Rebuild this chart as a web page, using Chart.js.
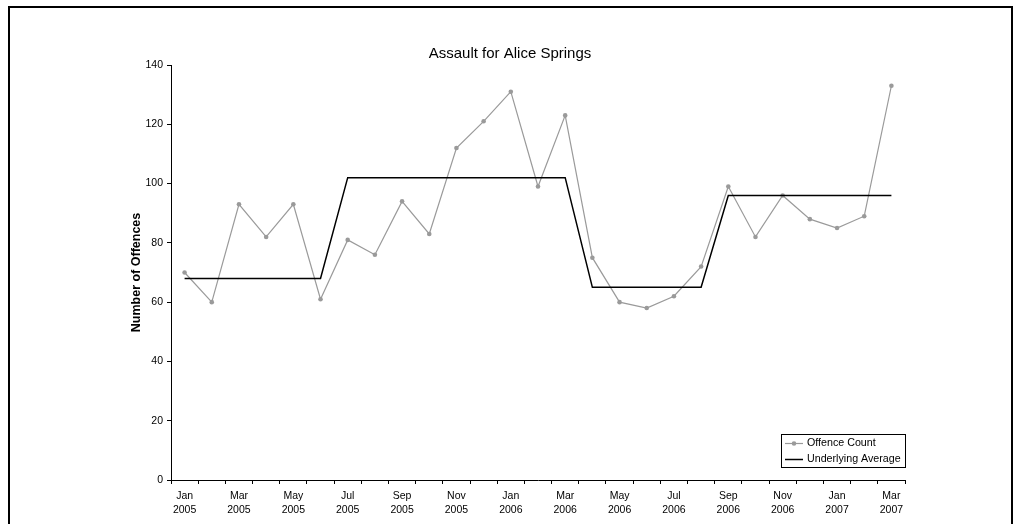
<!DOCTYPE html>
<html>
<head>
<meta charset="utf-8">
<script src="https://cdn.jsdelivr.net/npm/chart.js@4/dist/chart.umd.min.js"></script>
<style>
  html, body { margin: 0; padding: 0; background: #fff; overflow: hidden; }
  canvas { display: block; }
</style>
</head>
<body>
<canvas id="c" width="1021" height="524"></canvas>
<script>
const categories = [
  'Jan 2005','Feb 2005','Mar 2005','Apr 2005','May 2005','Jun 2005','Jul 2005','Aug 2005','Sep 2005','Oct 2005','Nov 2005','Dec 2005',
  'Jan 2006','Feb 2006','Mar 2006','Apr 2006','May 2006','Jun 2006','Jul 2006','Aug 2006','Sep 2006','Oct 2006','Nov 2006','Dec 2006',
  'Jan 2007','Feb 2007','Mar 2007'
];
const offenceCount = [70, 60, 93, 82, 93, 61, 81, 76, 94, 83, 112, 121, 131, 99, 123, 75, 60, 58, 62, 72, 99, 82, 96, 88, 85, 89, 133];
const underlyingAverage = [68, 68, 68, 68, 68, 68, 102, 102, 102, 102, 102, 102, 102, 102, 102, 65, 65, 65, 65, 65, 96, 96, 96, 96, 96, 96, 96];
const yTicks = [0, 20, 40, 60, 80, 100, 120, 140];
const chartTitle = 'Assault for Alice Springs';
const yTitle = 'Number of Offences';

const FONT = "'Liberation Sans', Arial, sans-serif";

const framePlugin = {
  id: 'frame',
  beforeDraw(chart) {
    const ctx = chart.ctx;
    ctx.save();
    ctx.fillStyle = '#fff';
    ctx.fillRect(0, 0, chart.width, chart.height);
    ctx.strokeStyle = '#000';
    ctx.lineWidth = 2;
    ctx.strokeRect(9, 7, 1003, 600);
    ctx.restore();
  }
};

const legendPlugin = {
  id: 'boxLegend',
  afterDraw(chart) {
    const ctx = chart.ctx;
    const a = chart.chartArea;
    const right = a.right, bottom = a.bottom - 13;
    const w = 124, h = 33;
    const left = right - w, top = bottom - h;
    ctx.save();
    ctx.fillStyle = '#fff';
    ctx.fillRect(left, top, w, h);
    ctx.strokeStyle = '#000';
    ctx.lineWidth = 1;
    ctx.strokeRect(left + 0.5, top + 0.5, w, h);
    ctx.font = '10.7px ' + FONT;
    ctx.textBaseline = 'middle';
    ctx.textAlign = 'left';
    chart.data.datasets.forEach((ds, i) => {
      const y = top + 9.5 + i * 16;
      ctx.strokeStyle = ds.borderColor;
      ctx.lineWidth = ds.borderWidth;
      ctx.beginPath();
      ctx.moveTo(left + 4, y);
      ctx.lineTo(left + 22, y);
      ctx.stroke();
      if (ds.pointRadius > 0) {
        ctx.fillStyle = ds.pointBackgroundColor;
        ctx.beginPath();
        ctx.arc(left + 13, y, ds.pointRadius, 0, Math.PI * 2);
        ctx.fill();
      }
      ctx.fillStyle = '#000';
      ctx.fillText(ds.label, left + 26, y);
    });
    ctx.restore();
  }
};

new Chart(document.getElementById('c'), {
  type: 'line',
  data: {
    labels: categories,
    datasets: [
      {
        label: 'Offence Count',
        data: offenceCount,
        borderColor: '#9a9a9a',
        backgroundColor: '#9a9a9a',
        pointBackgroundColor: '#9a9a9a',
        pointBorderColor: '#9a9a9a',
        borderWidth: 1.2,
        pointRadius: 2.3,
        pointBorderWidth: 0,
        tension: 0,
        order: 2
      },
      {
        label: 'Underlying Average',
        data: underlyingAverage,
        borderColor: '#000',
        backgroundColor: '#000',
        pointBackgroundColor: '#000',
        borderWidth: 1.5,
        pointRadius: 0,
        tension: 0,
        order: 1
      }
    ]
  },
  plugins: [framePlugin, legendPlugin],
  options: {
    responsive: false,
    animation: false,
    devicePixelRatio: 1,
    layout: { padding: { left: 115, right: 116, top: 0, bottom: 0 } },
    plugins: {
      legend: { display: false },
      tooltip: { enabled: false },
      title: {
        display: true,
        text: chartTitle,
        color: '#000',
        font: { family: FONT, size: 15, weight: 'normal', lineHeight: 1.2 },
        padding: { top: 44.5, bottom: 2.5 }
      }
    },
    scales: {
      x: {
        offset: true,
        grid: { display: true, drawOnChartArea: false, drawTicks: true, tickLength: 4, tickColor: '#000', offset: true },
        border: { display: true, color: '#000', width: 1 },
        ticks: {
          autoSkip: false,
          maxRotation: 0,
          minRotation: 0,
          padding: 5,
          color: '#000',
          font: { family: FONT, size: 10.5, lineHeight: 1.36 },
          callback: function (v, i) {
            return i % 2 === 0 ? categories[i].split(' ') : '';
          }
        },
        afterFit(scale) { scale.height = 44; }
      },
      y: {
        min: 0,
        max: 140,
        afterBuildTicks(scale) { scale.ticks = yTicks.map(v => ({ value: v })); },
        grid: { display: true, drawOnChartArea: false, drawTicks: true, tickLength: 4, tickColor: '#000' },
        border: { display: true, color: '#000', width: 1 },
        ticks: {
          padding: 4,
          color: '#000',
          font: { family: FONT, size: 10.5 }
        },
        title: {
          display: true,
          text: yTitle,
          color: '#000',
          font: { family: FONT, size: 12.5, weight: 'bold', lineHeight: 1.2 },
          padding: { top: 14.5, bottom: 0 }
        },
        afterFit(scale) { scale.width = 56; }
      }
    }
  }
});
</script>
</body>
</html>
